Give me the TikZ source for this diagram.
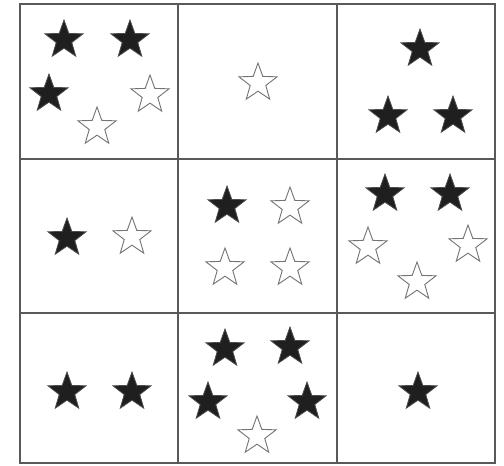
\documentclass[tikz,border=0pt]{standalone}
\usetikzlibrary{shapes.geometric}
\begin{document}
\begin{tikzpicture}[x=1pt,y=-1pt,
  starbase/.style={star,star points=5,star point ratio=2.45,minimum size=40pt,inner sep=0pt,shape border rotate=0},
  fstar/.style={starbase,fill=black!88,draw=black!70,line width=0.8pt},
  ostar/.style={starbase,draw=black!55,line width=0.9pt,fill=white},
  gridline/.style={draw=black!65,line width=1.6pt}]
\useasboundingbox (0,0) rectangle (504,466);
\fill[white] (0,0) rectangle (504,466);
% grid
\draw[gridline] (20,4) rectangle (495,463);
\draw[gridline] (178,4) -- (178,463);
\draw[gridline] (337,4) -- (337,463);
\draw[gridline] (20,159) -- (495,159);
\draw[gridline] (20,313) -- (495,313);
% cell 1,1
\node[fstar] (s1) at (64,40) {};
\node[fstar] (s2) at (130,40) {};
\node[fstar] (s3) at (49,94) {};
\node[ostar] (s4) at (150,95) {};
\node[ostar] (s5) at (97,127) {};
% cell 1,2
\node[ostar] (s6) at (258,83) {};
% cell 1,3
\node[fstar] (s7) at (420,49) {};
\node[fstar] (s8) at (388,116) {};
\node[fstar] (s9) at (453,116) {};
% cell 2,1
\node[fstar] (s10) at (67,238) {};
\node[ostar] (s11) at (132,237) {};
% cell 2,2
\node[fstar] (s12) at (227,206) {};
\node[ostar] (s13) at (290,207) {};
\node[ostar] (s14) at (225,268) {};
\node[ostar] (s15) at (290,268) {};
% cell 2,3
\node[fstar] (s16) at (385,194) {};
\node[fstar] (s17) at (450,194) {};
\node[ostar] (s18) at (368,247) {};
\node[ostar] (s19) at (468,245) {};
\node[ostar] (s20) at (417,282) {};
% cell 3,1
\node[fstar] (s21) at (67,392) {};
\node[fstar] (s22) at (132,392) {};
% cell 3,2
\node[fstar] (s23) at (225,349) {};
\node[fstar] (s24) at (290,347) {};
\node[fstar] (s25) at (208,402) {};
\node[fstar] (s26) at (307,402) {};
\node[ostar] (s27) at (257,436) {};
% cell 3,3
\node[fstar] (s28) at (418,392) {};
\end{tikzpicture}
\end{document}
